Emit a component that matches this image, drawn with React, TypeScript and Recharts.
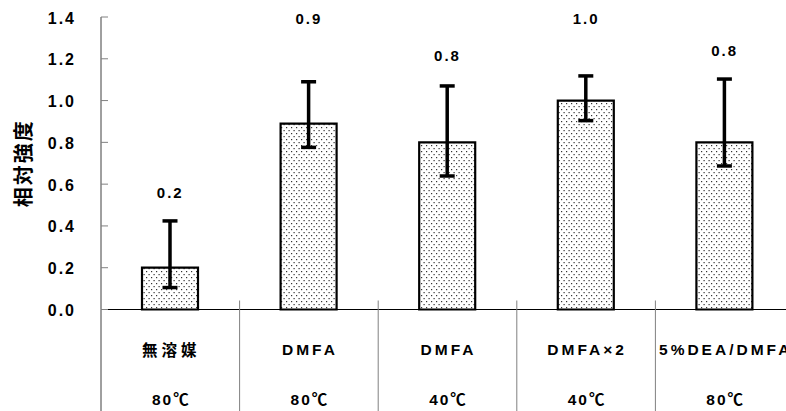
import React from 'react';
import { ComposedChart, Bar, Line, XAxis, YAxis, ErrorBar, LabelList } from 'recharts';

// ---- data ----
const categories = ['無溶媒', 'DMFA', 'DMFA', 'DMFA×2', '5%DEA/DMFA'];
const temperatures = ['80℃', '80℃', '40℃', '40℃', '80℃'];
const values = [0.2, 0.89, 0.8, 1.0, 0.8];
const lowEnds = [0.105, 0.776, 0.639, 0.904, 0.687];
const highEnds = [0.424, 1.09, 1.07, 1.118, 1.103];
const labelLevels = [0.56, 1.39, 1.213, 1.39, 1.237];
const yTicks = [0, 0.2, 0.4, 0.6, 0.8, 1.0, 1.2, 1.4];
const yTitle = '相対強度';

const data = categories.map((c, i) => ({
  idx: String(i),
  category: c,
  temp: temperatures[i],
  value: values[i],
  err: [values[i] - lowEnds[i], highEnds[i] - values[i]],
  labelPos: labelLevels[i],
}));

const LATIN = '"Liberation Sans", Arial, "Noto Sans CJK JP", sans-serif';
const CJK = '"Noto Sans CJK JP", "Liberation Sans", sans-serif';

const hasCJK = (s: string) => /[\u3000-\u9fff]/.test(s);

const XTick = (props: any) => {
  const { x, y, payload, index } = props;
  const half = payload && payload.offset ? payload.offset : 69.3;
  const i = typeof index === 'number' ? index : Number(payload.value);
  const cat = categories[i];
  const tmp = temperatures[i];
  const bx = x - half;
  return (
    <g>
      <line
        x1={bx}
        x2={bx}
        y1={i === 0 ? y : y - 9}
        y2={y + 110}
        stroke={i === 0 ? '#404040' : '#808080'}
        strokeWidth={1}
      />
      <text
        x={x + 1}
        y={y + 39.5}
        textAnchor="middle"
        dominantBaseline="central"
        fontFamily={hasCJK(cat) ? CJK : LATIN}
        fontWeight="bold"
        fontSize={15.5}
        letterSpacing={hasCJK(cat) ? 4 : 3}
        fill="#000"
      >
        {cat}
      </text>
      <text
        x={x + 1}
        y={y + 90}
        textAnchor="middle"
        dominantBaseline="central"
        fontFamily={LATIN}
        fontWeight="bold"
        fontSize={15.5}
        letterSpacing={2}
        fill="#000"
      >
        {tmp}
      </text>
    </g>
  );
};

const YTick = (props: any) => {
  const { x, y, payload } = props;
  return (
    <g>
      <line x1={x} x2={x + 7} y1={y} y2={y} stroke="#808080" strokeWidth={1} />
      <text
        x={x - 25}
        y={y + 1}
        textAnchor="end"
        dominantBaseline="central"
        fontFamily={LATIN}
        fontWeight="bold"
        fontSize={16}
        letterSpacing={2}
        fill="#000"
      >
        {Number(payload.value).toFixed(1)}
      </text>
    </g>
  );
};

const YTitle = (props: any) => {
  const vb = props.viewBox || { x: 0, y: 17, width: 101, height: 292.5 };
  const cx = vb.x + 22;
  const cy = vb.y + vb.height / 2;
  return (
    <text
      x={cx}
      y={cy}
      transform={`rotate(-90 ${cx} ${cy})`}
      textAnchor="middle"
      dominantBaseline="central"
      fontFamily={CJK}
      fontWeight="bold"
      fontSize={20}
      letterSpacing={2}
      fill="#000"
    >
      {yTitle}
    </text>
  );
};

export default function App() {
  return (
    <div
      style={{
        position: 'absolute',
        left: 0,
        top: 0,
        width: 786,
        height: 411,
        overflow: 'hidden',
        background: '#fff',
      }}
    >
      <ComposedChart
        width={794}
        height={411}
        data={data}
        margin={{ top: 17, right: 0, bottom: 0, left: 0 }}
      >
        <defs>
          <pattern id="dots" width="5" height="6" patternUnits="userSpaceOnUse">
            <rect x="0" y="0" width="5" height="6" fill="#fff" />
            <rect x="1" y="1" width="1.2" height="1.2" fill="#333" />
            <rect x="3.5" y="4" width="1.2" height="1.2" fill="#333" />
          </pattern>
        </defs>
        <XAxis
          dataKey="idx"
          type="category"
          height={101.5}
          tickSize={0}
          tickMargin={0}
          tickLine={false}
          axisLine={{ stroke: '#000', strokeWidth: 1 }}
          tick={<XTick />}
          interval={0}
        />
        <YAxis
          type="number"
          domain={[0, 1.4]}
          ticks={yTicks}
          width={101}
          tickSize={0}
          tickMargin={0}
          tickLine={false}
          axisLine={{ stroke: '#404040', strokeWidth: 1 }}
          tick={<YTick />}
          interval={0}
          label={{ content: <YTitle /> }}
        />
        <Bar
          dataKey="value"
          barSize={56}
          fill="url(#dots)"
          stroke="#000"
          strokeWidth={2.2}
          isAnimationActive={false}
        >
          <ErrorBar
            dataKey="err"
            direction="y"
            width={7.5}
            stroke="#000"
            strokeWidth={3.5}
            isAnimationActive={false}
          />
        </Bar>
        <Line
          dataKey="labelPos"
          stroke="none"
          dot={false}
          activeDot={false}
          isAnimationActive={false}
        >
          <LabelList
            dataKey="value"
            position="center"
            formatter={(v: any) => Number(v).toFixed(1)}
            fill="#000"
            fontFamily={LATIN}
            fontWeight="bold"
            fontSize={15}
            letterSpacing={2}
          />
        </Line>
      </ComposedChart>
    </div>
  );
}
